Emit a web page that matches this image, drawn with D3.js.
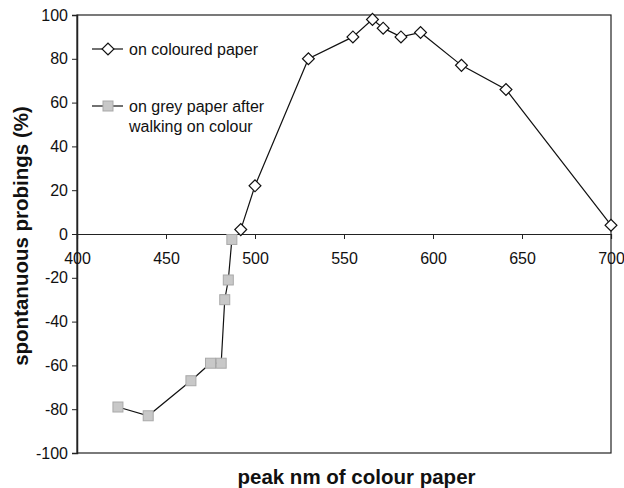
<!DOCTYPE html>
<html><head><meta charset="utf-8">
<script src="https://cdn.jsdelivr.net/npm/d3@7"></script>
<style>body{margin:0;background:#fff}svg{display:block}text{font-family:"Liberation Sans",Arial,sans-serif}</style>
</head><body>
<script>
const colouredX = [492, 500, 530, 555, 566, 572, 582, 593, 616, 641, 700];
const colouredY = [2, 22, 80, 90, 98, 94, 90, 92, 77, 66, 4];
const greyX = [423, 440, 464, 475, 481, 483, 485, 487];
const greyY = [-79, -83, -67, -59, -59, -30, -21, -2.5];
const xTicks = [400, 450, 500, 550, 600, 650, 700];
const yTicks = [-100, -80, -60, -40, -20, 0, 20, 40, 60, 80, 100];
const seriesNames = ["on coloured paper", ["on grey paper after", "walking on colour"]];
const xTitle = "peak nm of colour paper";
const yTitle = "spontanuous probings (%)";

const W = 624, H = 488;
const L = 77, R = 611, T = 15, B = 453;
const FS = 16;
const svg = d3.select("body").append("svg").attr("width", W).attr("height", H);
const x = d3.scaleLinear().domain([400, 700]).range([L, R]);
const y = d3.scaleLinear().domain([-100, 100]).range([B, T]);

svg.append("rect").attr("x", L).attr("y", T).attr("width", R - L).attr("height", B - T)
  .attr("fill", "none").attr("stroke", "#222").attr("stroke-width", 1.2);

const yAx = svg.append("g").attr("transform", `translate(${L},0)`)
  .call(d3.axisLeft(y).tickValues(yTicks).tickSize(5).tickPadding(4).tickFormat(d => String(d)));
yAx.select(".domain").attr("stroke", "#222").attr("stroke-width", 1.5);
yAx.selectAll("text").attr("font-size", FS).attr("fill", "#111").style("font-family", "Liberation Sans, Arial, sans-serif");
yAx.selectAll("line").attr("stroke", "#222");

const xAx = svg.append("g").attr("transform", `translate(0,${y(0)})`)
  .call(d3.axisBottom(x).tickValues(xTicks).tickSize(5).tickPadding(14).tickFormat(d => String(d)));
xAx.select(".domain").attr("stroke", "#222").attr("stroke-width", 1.2);
xAx.selectAll("text").attr("font-size", FS).attr("fill", "#111").style("font-family", "Liberation Sans, Arial, sans-serif");
xAx.selectAll("line").attr("stroke", "#222");

const line = d3.line().x(d => x(d[0])).y(d => y(d[1]));
const cData = colouredX.map((v, i) => [v, colouredY[i]]);
const gData = greyX.map((v, i) => [v, greyY[i]]);

svg.append("path").datum(gData).attr("d", line).attr("fill", "none").attr("stroke", "#111").attr("stroke-width", 1.2);
svg.append("path").datum(cData).attr("d", line).attr("fill", "none").attr("stroke", "#111").attr("stroke-width", 1.2);

const sq = 10;
svg.selectAll(".g").data(gData).enter().append("rect")
  .attr("x", d => x(d[0]) - sq / 2).attr("y", d => y(d[1]) - sq / 2)
  .attr("width", sq).attr("height", sq).attr("fill", "#c8c8c8").attr("stroke", "#a9a9a9").attr("stroke-width", 1);

const dia = d3.symbol().type(d3.symbolSquare).size(70);
svg.selectAll(".c").data(cData).enter().append("path")
  .attr("d", dia).attr("transform", d => `translate(${x(d[0])},${y(d[1])}) rotate(45)`)
  .attr("fill", "#fff").attr("stroke", "#111").attr("stroke-width", 1.2);

const lg = svg.append("g");
lg.append("line").attr("x1", 92).attr("x2", 123).attr("y1", 49).attr("y2", 49).attr("stroke", "#111").attr("stroke-width", 1.2);
lg.append("path").attr("d", dia).attr("transform", "translate(108,49) rotate(45)").attr("fill", "#fff").attr("stroke", "#111").attr("stroke-width", 1.2);
lg.append("text").attr("x", 129).attr("y", 54.5).attr("font-size", FS).attr("fill", "#111").text(seriesNames[0]);
lg.append("line").attr("x1", 92).attr("x2", 123).attr("y1", 106).attr("y2", 106).attr("stroke", "#111").attr("stroke-width", 1.2);
lg.append("rect").attr("x", 108 - sq / 2).attr("y", 106 - sq / 2).attr("width", sq).attr("height", sq).attr("fill", "#c8c8c8").attr("stroke", "#a9a9a9");
seriesNames[1].forEach((t, i) => lg.append("text").attr("x", 129).attr("y", 112 + i * 19.5).attr("font-size", FS).attr("fill", "#111").text(t));

svg.append("text").attr("x", 356.5).attr("y", 484).attr("text-anchor", "middle").attr("font-size", 20.5).attr("font-weight", "bold").attr("fill", "#111").text(xTitle);
svg.append("text").attr("transform", "translate(28,236) rotate(-90)").attr("text-anchor", "middle").attr("font-size", 20.5).attr("font-weight", "bold").attr("fill", "#111").text(yTitle);
</script>
</body></html>
